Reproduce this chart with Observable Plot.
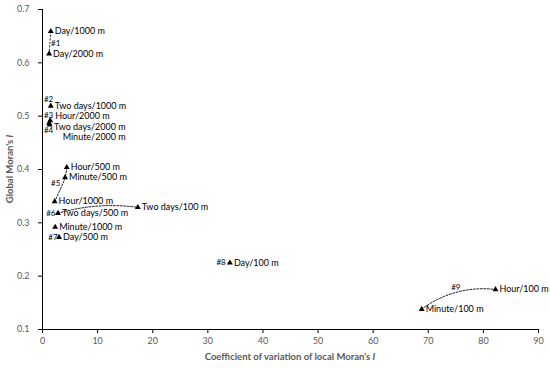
<!DOCTYPE html>
<html><head><meta charset="utf-8">
<script src="https://cdn.jsdelivr.net/npm/d3@7"></script>
<script src="https://cdn.jsdelivr.net/npm/@observablehq/plot@0.6"></script>
<style>body{margin:0;background:#fff;} svg{font-family:Lato, "Open Sans", sans-serif;}</style>
</head><body><div id="chart"></div>
<script>
// ---- data ----
const names = ["Day/1000 m","Day/2000 m","Two days/1000 m","Hour/2000 m","Two days/2000 m","Minute/2000 m","Hour/500 m","Minute/500 m","Hour/1000 m","Two days/100 m","Two days/500 m","Minute/1000 m","Day/500 m","Day/100 m","Hour/100 m","Minute/100 m"];
const cvValues = [1.5,1.2,1.5,1.4,1.2,1.3,4.4,4.1,2.2,17.3,2.8,2.3,3.0,34.0,82.2,68.8];
const moranValues = [0.659,0.617,0.519,0.492,0.487,0.484,0.404,0.385,0.340,0.329,0.318,0.292,0.273,0.225,0.175,0.138];
const groupLabels = ["#1","#2","#3","#4","#5","#6","#7","#8","#9"];
const groupX = [2.4,1.1,1.1,1.1,2.4,1.5,1.9,32.4,75.0];
const groupY = [0.636,0.531,0.502,0.473,0.374,0.318,0.273,0.225,0.178];
const xTicks = [0,10,20,30,40,50,60,70,80,90];
const yTicks = [0.1,0.2,0.3,0.4,0.5,0.6,0.7];
const straightLinks = [["Day/1000 m","Day/2000 m"]];
const pathLink = ["Hour/500 m","Minute/500 m","Hour/1000 m"];
const arcLinks = [["Two days/500 m","Two days/100 m"],["Minute/100 m","Hour/100 m"]];

const points = names.map((n,i)=>({name:n, cv:cvValues[i], moran:moranValues[i]}));
const byName = Object.fromEntries(points.map(p=>[p.name,p]));
const groups = groupLabels.map((g,i)=>({g, x:groupX[i], y:groupY[i]}));
const straightData = straightLinks.map(([a,b])=>({x1:byName[a].cv,y1:byName[a].moran,x2:byName[b].cv,y2:byName[b].moran}));
const pathData = pathLink.map(n=>byName[n]);
const arcData = arcLinks.map(([a,b])=>({x1:byName[a].cv,y1:byName[a].moran,x2:byName[b].cv,y2:byName[b].moran}));

const special = {"Hour/2000 m":[5,-4],"Two days/2000 m":[5,4],"Minute/2000 m":[13,12]};
const normal = points.filter(p=>!special[p.name]);
const dash = "2,1.5";

const marks = [
  Plot.ruleY([0.1], {stroke:"#000"}),
  Plot.ruleX([0], {stroke:"#000"}),
  Plot.axisX({ticks:xTicks, tickSize:4, tickPadding:4, fontSize:9, fill:"#595959", label:null, tickFormat:d=>d}),
  Plot.axisY({ticks:yTicks, tickSize:4, tickPadding:9, fontSize:9, fill:"#595959", label:null, tickFormat:d3.format(".1f")}),
  Plot.link(straightData, {x1:"x1",y1:"y1",x2:"x2",y2:"y2", stroke:"#000", strokeDasharray:dash, strokeWidth:0.9}),
  Plot.line(pathData, {x:"cv", y:"moran", curve:"catmull-rom", stroke:"#000", strokeDasharray:dash, strokeWidth:0.9}),
  Plot.arrow(arcData.slice(0,1), {x1:"x1",y1:"y1",x2:"x2",y2:"y2", bend:12, headLength:0, stroke:"#000", strokeDasharray:dash, strokeWidth:0.9, insetStart:0, insetEnd:0}),
  Plot.arrow(arcData.slice(1), {x1:"x1",y1:"y1",x2:"x2",y2:"y2", bend:22, headLength:0, stroke:"#000", strokeDasharray:dash, strokeWidth:0.9, insetStart:0, insetEnd:0}),
  Plot.dot(points, {x:"cv", y:"moran", symbol:"triangle", r:2.2, fill:"#000", stroke:"none"}),
  Plot.text(normal, {x:"cv", y:"moran", text:"name", textAnchor:"start", dx:4, fontSize:9, fill:"#000"}),
  ...Object.entries(special).map(([n,[dx,dy]])=>Plot.text([byName[n]], {x:"cv", y:"moran", text:"name", textAnchor:"start", dx, dy, fontSize:9, fill:"#000"})),
  Plot.text(groups, {x:"x", y:"y", text:"g", fontSize:8, fill:"#000"})
];

const chart = Plot.plot({
  width:550, height:368,
  marginLeft:42, marginRight:12, marginTop:9, marginBottom:39,
  x:{domain:[0,90]},
  y:{domain:[0.1,0.7]},
  style:{fontFamily:"Lato, 'Open Sans', sans-serif", background:"#fff"},
  marks
});
document.getElementById("chart").append(chart);

const xs = chart.scale("x").range, ys = chart.scale("y").range;
const svg = d3.select(chart);
const xt = svg.append("text").attr("x",(xs[0]+xs[1])/2).attr("y",360).attr("text-anchor","middle")
  .attr("font-size",9.5).attr("font-weight","bold").attr("fill","#595959");
xt.append("tspan").text("Coefficient of variation of local Moran's ");
xt.append("tspan").attr("font-style","italic").text("I");
const yt = svg.append("text").attr("transform",`translate(13,${(ys[0]+ys[1])/2}) rotate(-90)`).attr("text-anchor","middle")
  .attr("font-size",9.5).attr("font-weight","bold").attr("fill","#595959");
yt.append("tspan").text("Global Moran's ");
yt.append("tspan").attr("font-style","italic").text("I");
</script></body></html>
